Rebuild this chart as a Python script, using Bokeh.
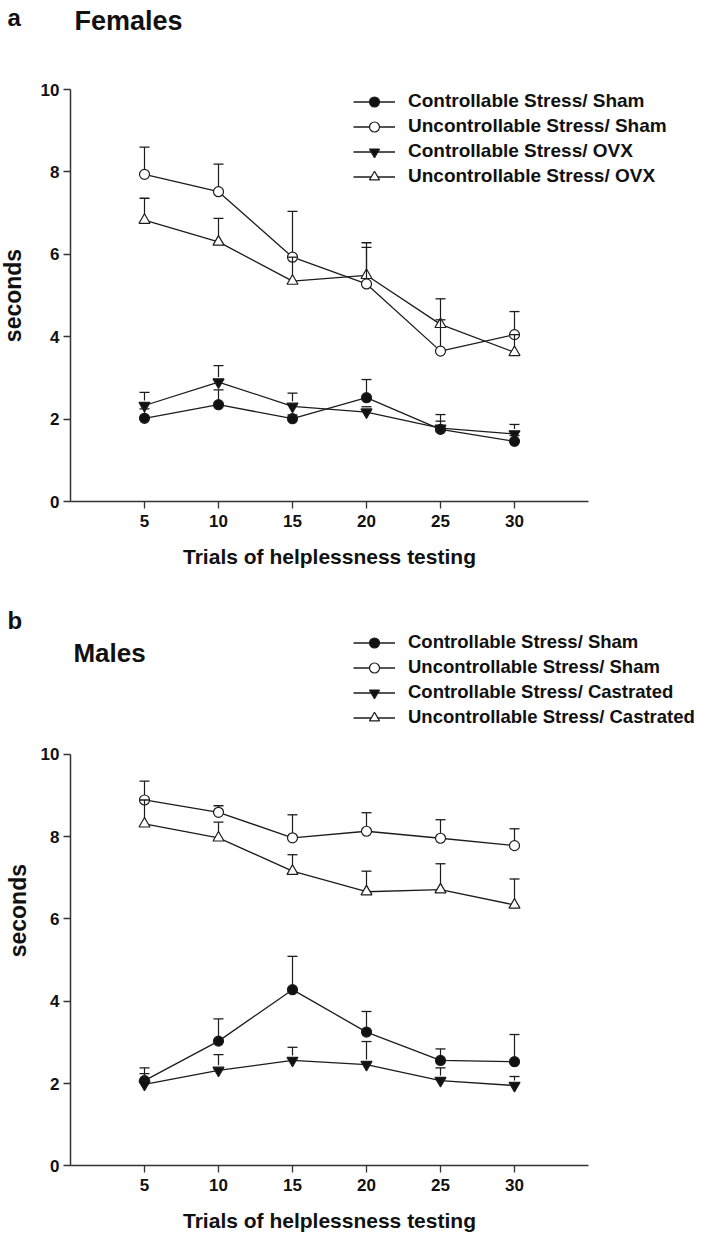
import numpy as np
from bokeh.plotting import figure
from bokeh.models import Range1d, FixedTicker, Legend, LegendItem, Label, LinearAxis
from bokeh.layouts import column
from bokeh.embed import file_html
from bokeh.resources import INLINE

# ---------------- data ----------------
trials = [5, 10, 15, 20, 25, 30]
x_ticks = [5, 10, 15, 20, 25, 30]
y_ticks = [0, 2, 4, 6, 8, 10]

# Females (mean, and upper end of error bar)
f_cs_sham = [2.02, 2.35, 2.01, 2.52, 1.75, 1.46]
f_cs_sham_top = [2.25, 2.71, 2.10, 2.96, 1.95, 1.60]
f_ucs_sham = [7.94, 7.52, 5.93, 5.28, 3.65, 4.05]
f_ucs_sham_top = [8.60, 8.19, 7.04, 6.17, 4.41, 4.61]
f_cs_ovx = [2.33, 2.90, 2.31, 2.17, 1.78, 1.64]
f_cs_ovx_top = [2.65, 3.30, 2.63, 2.30, 2.11, 1.87]
f_ucs_ovx = [6.83, 6.30, 5.35, 5.49, 4.30, 3.62]
f_ucs_ovx_top = [7.36, 6.87, 5.93, 6.28, 4.92, 4.05]

# Males
m_cs_sham = [2.07, 3.03, 4.28, 3.25, 2.56, 2.53]
m_cs_sham_top = [2.38, 3.57, 5.09, 3.75, 2.84, 3.19]
m_ucs_sham = [8.89, 8.59, 7.97, 8.13, 7.96, 7.78]
m_ucs_sham_top = [9.35, 8.75, 8.53, 8.58, 8.41, 8.19]
m_cs_cas = [1.98, 2.32, 2.56, 2.46, 2.07, 1.95]
m_cs_cas_top = [2.24, 2.70, 2.88, 3.02, 2.38, 2.17]
m_ucs_cas = [8.31, 7.97, 7.16, 6.66, 6.71, 6.34]
m_ucs_cas_top = [8.89, 8.35, 7.56, 7.16, 7.34, 6.97]

labels_f = ["Controllable Stress/ Sham", "Uncontrollable Stress/ Sham",
            "Controllable Stress/ OVX", "Uncontrollable Stress/ OVX"]
labels_m = ["Controllable Stress/ Sham", "Uncontrollable Stress/ Sham",
            "Controllable Stress/ Castrated", "Uncontrollable Stress/ Castrated"]

FONT = "Liberation Sans"
INK = "#1c1c1c"
TXT = "#111111"

W = 715
AXIS_X = 70          # pixel column of the y axis
PX_PER_X = 518 / 35  # x scale (axis 0..35 spans 518 px)

styles = [
    dict(marker="circle", fill="#111111", size=10),
    dict(marker="circle", fill="white", size=10),
    dict(marker="inverted_triangle", fill="#111111", size=11),
    dict(marker="triangle", fill="white", size=11),
]


def make_panel(height, y0_px, px_per_y, series, labels, legend_loc, legend_font):
    # frame fills the whole canvas; axes are pinned at data 0 with fixed_location
    x_rng = Range1d(-AXIS_X / PX_PER_X, (W - AXIS_X) / PX_PER_X)
    y_rng = Range1d(-(height - y0_px) / px_per_y, y0_px / px_per_y)
    p = figure(width=W, height=height, x_range=x_rng, y_range=y_rng,
               output_backend="svg", toolbar_location=None,
               x_axis_location=None, y_axis_location=None,
               min_border=0)
    p.outline_line_color = None
    p.grid.visible = False
    p.background_fill_color = "white"
    p.border_fill_color = "white"

    xa = LinearAxis(fixed_location=0, bounds=(0, 35), ticker=FixedTicker(ticks=x_ticks))
    ya = LinearAxis(fixed_location=0, bounds=(0, 10), ticker=FixedTicker(ticks=y_ticks))
    p.add_layout(xa, "below")
    p.add_layout(ya, "left")
    for ax in (xa, ya):
        ax.major_tick_out = 7
        ax.major_tick_in = 0
        ax.minor_tick_out = 0
        ax.minor_tick_in = 0
        ax.axis_line_width = 1.5
        ax.axis_line_color = "#333333"
        ax.major_tick_line_color = "#333333"
        ax.major_tick_line_width = 1.3
        ax.major_label_text_font = FONT
        ax.major_label_text_font_style = "bold"
        ax.major_label_text_font_size = "17px"
        ax.major_label_text_color = TXT
        ax.axis_label_text_font = FONT
        ax.axis_label_text_font_style = "bold"
        ax.axis_label_text_color = TXT
    xa.axis_label = "Trials of helplessness testing"
    xa.axis_label_text_font_size = "21px"
    xa.major_label_standoff = 6
    xa.axis_label_standoff = 15
    ya.major_label_standoff = 4

    line_rs, mark_rs = [], []
    for (y, top_), st in zip(series, styles):
        line_rs.append(p.line(trials, y, line_color=INK, line_width=1.3))
    for (y, top_), st in zip(series, styles):
        mark_rs.append(p.scatter(trials, y, marker=st["marker"], size=st["size"],
                                 fill_color=st["fill"], line_color=INK, line_width=1.2))
    r = 5 / px_per_y  # error bar starts at the marker edge
    for (y, top_), st in zip(series, styles):
        y = np.array(y)
        t = np.array(top_)
        start = np.minimum(y + r, t)
        p.segment(trials, start, trials, t, line_color=INK, line_width=1.2)
        p.scatter(trials, t, marker="dash", size=10, line_color=INK, line_width=1.3)

    items = [LegendItem(label=lab, renderers=[lr, mr]) for lab, lr, mr in zip(labels, line_rs, mark_rs)]
    legend = Legend(items=items, location=legend_loc[:2], glyph_width=42, glyph_height=legend_loc[2],
                    label_height=legend_loc[2], label_standoff=13, spacing=0, padding=0, margin=0,
                    border_line_color=None, background_fill_alpha=0,
                    label_text_font=FONT, label_text_font_style="bold",
                    label_text_font_size=legend_font, label_text_color=TXT)
    p.add_layout(legend)
    return p, ya


# ---- panel a : Females ----
HA = 580
fa, ya_a = make_panel(HA, 501, 41.2,
                      [(f_cs_sham, f_cs_sham_top), (f_ucs_sham, f_ucs_sham_top),
                       (f_cs_ovx, f_cs_ovx_top), (f_ucs_ovx, f_ucs_ovx_top)],
                      labels_f, (353, HA - 188.5, 25), "19px")
ya_a.axis_label = "seconds"
ya_a.axis_label_text_font_size = "23px"
ya_a.axis_label_standoff = 12
fa.add_layout(Label(x=-4.26, y=11.75, text="a", text_font=FONT, text_font_style="bold",
                    text_font_size="24px", text_baseline="middle", text_color=TXT))
fa.add_layout(Label(x=0.27, y=11.67, text="Females", text_font=FONT, text_font_style="bold",
                    text_font_size="27px", text_baseline="middle", text_color=TXT))

# ---- panel b : Males ----
HB = 1233 - HA
y0b = 1165.3 - HA
fb, ya_b = make_panel(HB, y0b, 41.15,
                      [(m_cs_sham, m_cs_sham_top), (m_ucs_sham, m_ucs_sham_top),
                       (m_cs_cas, m_cs_cas_top), (m_ucs_cas, m_ucs_cas_top)],
                      labels_m, (353, HB - (629.5 - HA + 4 * 25), 25), "18.5px")
fb.add_layout(Label(x=-3.55, y=6.2, text="seconds", angle=np.pi / 2, text_font=FONT,
                    text_font_style="bold", text_font_size="23px", text_align="center",
                    text_baseline="middle", text_color=TXT))
fb.add_layout(Label(x=-4.26, y=13.25, text="b", text_font=FONT, text_font_style="bold",
                    text_font_size="24px", text_baseline="middle", text_color=TXT))
fb.add_layout(Label(x=0.2, y=12.45, text="Males", text_font=FONT, text_font_style="bold",
                    text_font_size="26px", text_baseline="middle", text_color=TXT))

layout = column(fa, fb, spacing=0)
open("out.html", "w").write(file_html(layout, INLINE))
